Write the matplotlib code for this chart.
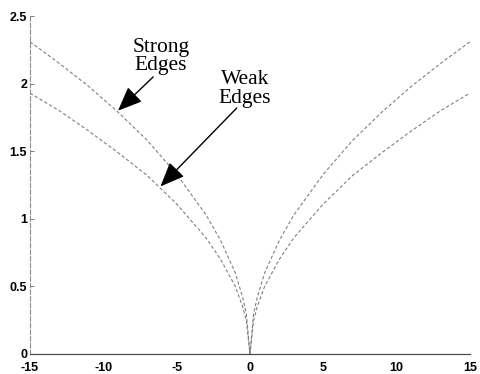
import matplotlib
matplotlib.use("Agg")
import matplotlib.pyplot as plt

# sample positions (one side), mirrored for negative x
x_half = [0.0, 0.25, 0.5, 1, 2, 3, 5, 7, 9, 11, 13, 15]
strong_half = [0.0, 0.30, 0.42, 0.60, 0.84, 1.03, 1.33, 1.58, 1.79, 1.98, 2.15, 2.31]
weak_half = [0.0, 0.25, 0.35, 0.50, 0.70, 0.86, 1.11, 1.32, 1.49, 1.65, 1.80, 1.93]

x_ticks = [-15, -10, -5, 0, 5, 10, 15]
y_ticks = [0, 0.5, 1, 1.5, 2, 2.5]

xs = [-v for v in x_half[:0:-1]] + x_half
strong = strong_half[:0:-1] + strong_half
weak = weak_half[:0:-1] + weak_half

fig = plt.figure(figsize=(4.8, 3.74), dpi=100)
ax = fig.add_axes([0.0625, 0.0535, 0.9165, 0.9035])

ax.plot(xs, strong, color="0.5", lw=0.8, dashes=(3, 2))
ax.plot(xs, weak, color="0.5", lw=0.8, dashes=(3, 2))

ax.set_xlim(-15, 15)
ax.set_ylim(0, 2.5)
ax.set_xticks(x_ticks)
ax.set_yticks(y_ticks)
ax.set_xticklabels([str(t) for t in x_ticks])
ax.set_yticklabels(["0", "0.5", "1", "1.5", "2", "2.5"])
for lab in ax.get_xticklabels() + ax.get_yticklabels():
    lab.set_family("Liberation Sans")
    lab.set_fontsize(9)
    lab.set_weight("bold")
ax.tick_params(direction="in", length=3, width=0.6, color="0.4", pad=2)
ax.tick_params(axis="x", length=0, pad=6)

ax.spines["top"].set_visible(False)
ax.spines["right"].set_visible(False)
ax.spines["left"].set_color("0.55")
ax.spines["left"].set_linewidth(0.8)
ax.spines["left"].set_linestyle((0, (4, 2)))
ax.spines["bottom"].set_color("0.3")
ax.spines["bottom"].set_linewidth(0.9)

serif = "Liberation Serif"
ax.text(-6.07, 2.20, "Strong\nEdges", ha="center", va="center",
        family=serif, fontsize=15.5, linespacing=0.95)
ax.text(-0.34, 1.96, "Weak\nEdges", ha="center", va="center",
        family=serif, fontsize=15.5, linespacing=0.95)

arrow = dict(arrowstyle="-|>,head_length=0.6,head_width=0.25",
             mutation_scale=25, color="black", lw=1.0,
             shrinkA=0, shrinkB=0)
ax.annotate("", xy=(-9.0, 1.80), xytext=(-6.6, 2.05), arrowprops=arrow)
ax.annotate("", xy=(-6.1, 1.24), xytext=(-0.9, 1.82), arrowprops=arrow)

fig.savefig("out.png", dpi=100)
